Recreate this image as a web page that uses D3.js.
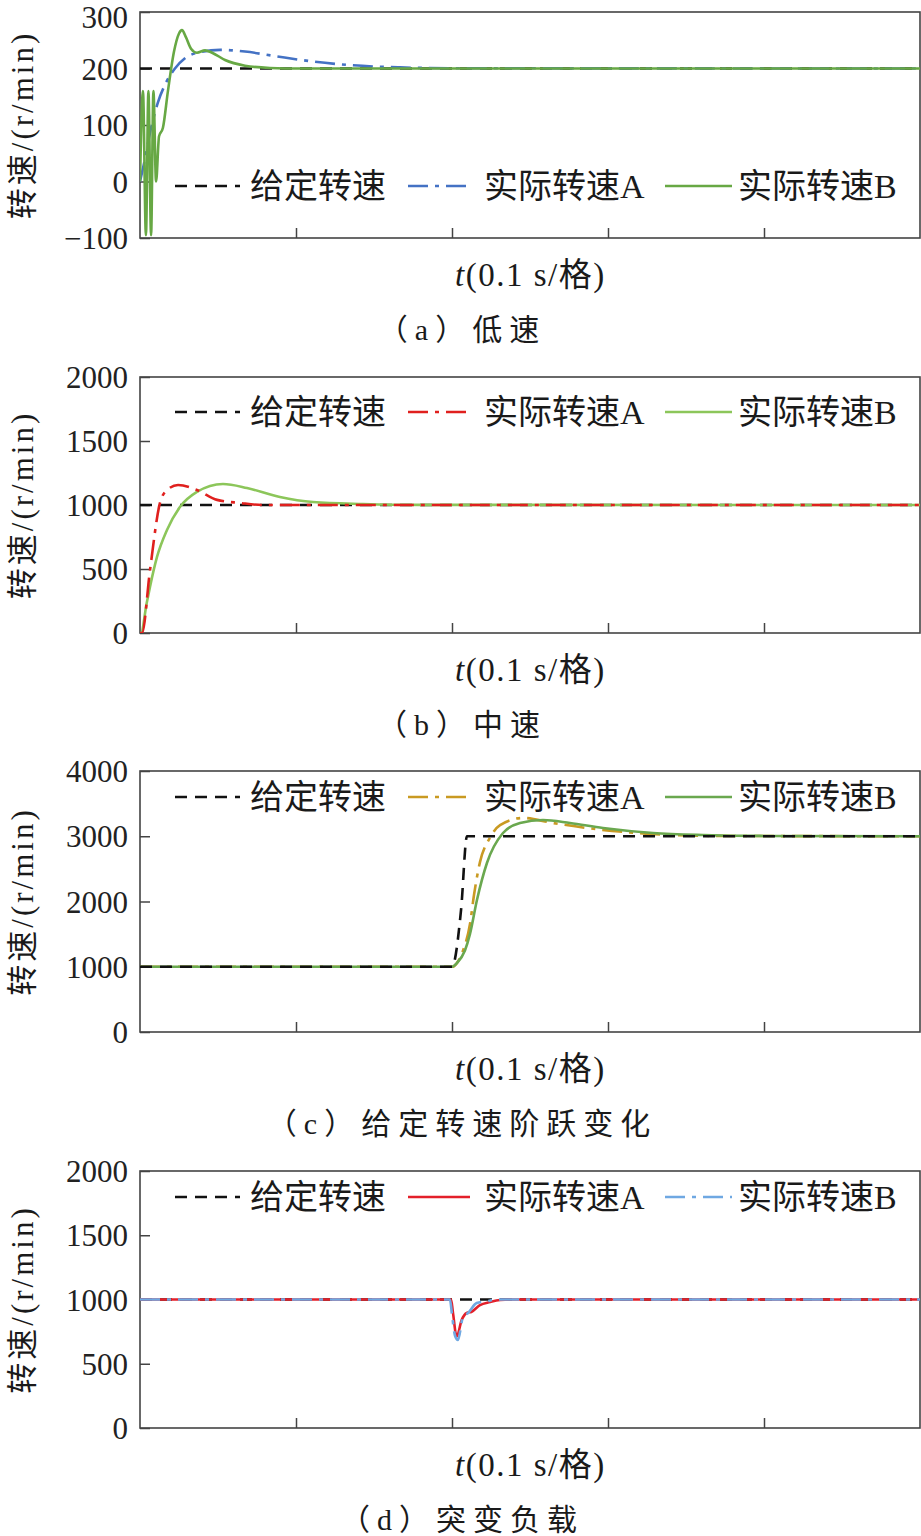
<!DOCTYPE html>
<html>
<head>
<meta charset="utf-8">
<script src="https://cdn.jsdelivr.net/npm/d3@7/dist/d3.min.js"></script>
<style>
  html, body { margin: 0; padding: 0; background: #ffffff; }
  svg { display: block; }
</style>
</head>
<body>
<div id="chart"></div>
<script>
// ---- data (time in s, speed in r/min) ----

// (a) low speed
const lowRefT = [0, 0.5];
const lowRefV = [200, 200];
const lowAT = [0, 0.0032, 0.0064, 0.0115, 0.0167, 0.0224, 0.0288, 0.0385, 0.0513, 0.0673, 0.0865, 0.109, 0.1346, 0.1667, 0.1987, 0.5];
const lowAV = [0, 40, 86, 140, 175, 200, 218, 229, 233, 230, 222, 213, 206, 202, 200.5, 200];
const lowBT = [0, 0.0019, 0.0038, 0.0054, 0.0071, 0.0086, 0.0103, 0.0122, 0.0147, 0.0179, 0.0218, 0.025, 0.0269, 0.0295, 0.0327, 0.0365, 0.0417, 0.0462, 0.0545, 0.0673, 0.0833, 0.1026, 0.5];
const lowBV = [0, 160, -95, 160, -95, 160, 0, 80, 95, 160, 230, 262, 268, 255, 235, 228, 232, 228, 215, 205, 201, 200, 200];

// (b) medium speed
const midRefT = [0, 0.5];
const midRefV = [1000, 1000];
const midAT = [0, 0.0013, 0.0064, 0.0128, 0.0173, 0.0244, 0.0365, 0.0494, 0.0641, 0.0788, 0.5];
const midAV = [0, 0, 490, 1016, 1117, 1156, 1117, 1040, 1016, 1000, 1000];
const midBT = [0, 0.0006, 0.0043, 0.0064, 0.0109, 0.0173, 0.0256, 0.0365, 0.0532, 0.0686, 0.0897, 0.1109, 0.1429, 0.1795, 0.5];
const midBV = [0, 0, 234, 360, 594, 805, 984, 1102, 1164, 1133, 1062, 1023, 1008, 1001, 1000];

// (c) step change of reference speed
const stepRefT = [0, 0.2, 0.2058, 0.2096, 0.5];
const stepRefV = [1000, 1000, 1870, 3000, 3000];
const stepAT = [0, 0.2006, 0.2038, 0.2071, 0.2115, 0.2141, 0.2179, 0.2244, 0.2308, 0.2455, 0.2647, 0.2865, 0.3186, 0.3397, 0.3718, 0.5];
const stepAV = [1000, 1000, 1080, 1250, 1650, 2100, 2600, 2980, 3172, 3280, 3203, 3126, 3050, 3019, 3005, 3000];
const stepBT = [0, 0.2, 0.2032, 0.2083, 0.2115, 0.216, 0.2224, 0.2327, 0.2436, 0.2583, 0.2756, 0.2968, 0.3288, 0.3609, 0.3974, 0.5];
const stepBV = [1000, 1000, 1057, 1250, 1500, 2023, 2590, 3050, 3203, 3249, 3203, 3126, 3050, 3019, 3005, 3000];

// (d) sudden load change
const loadRefT = [0, 0.5];
const loadRefV = [1000, 1000];
const loadAT = [0, 0.1994, 0.2006, 0.203, 0.2062, 0.2094, 0.2126, 0.2179, 0.2244, 0.2308, 0.2372, 0.5];
const loadAV = [1000, 1000, 900, 710, 840, 895, 905, 957, 980, 996, 1000, 1000];
const loadBT = [0, 0.1987, 0.2, 0.2019, 0.2038, 0.2071, 0.2103, 0.2158, 0.2218, 0.2288, 0.5];
const loadBV = [1000, 1000, 880, 720, 685, 866, 895, 972, 985, 1000, 1000];

const xTicks = [0.1, 0.2, 0.3, 0.4];
const legendNames = ['给定转速', '实际转速A', '实际转速B'];
const yTitle = '转速/(r/min)';
const captions = ['（a）低速', '（b）中速', '（c）给定转速阶跃变化', '（d）突变负载'];

const zip = (t, v) => t.map((d, i) => [d, v[i]]);

// ---- layout ----
const W = 921, H = 1536;
const left = 140, right = 920;
const FONT = '"Liberation Serif", "Times New Roman", "Noto Sans CJK SC", serif';
const DASH = '12,8';
const DASHDOT = '20,7,4,7';

const panels = [
  { top: 12, bottom: 238, domain: [-100, 300], ticks: [-100, 0, 100, 200, 300], legendY: 186,
    series: [
      { data: zip(lowRefT, lowRefV), color: '#111111', dash: DASH },
      { data: zip(lowAT, lowAV), color: '#4472C4', dash: DASHDOT },
      { data: zip(lowBT, lowBV), color: '#67A844', dash: null }
    ] },
  { top: 377, bottom: 633, domain: [0, 2000], ticks: [0, 500, 1000, 1500, 2000], legendY: 412,
    series: [
      { data: zip(midRefT, midRefV), color: '#111111', dash: DASH },
      { data: zip(midBT, midBV), color: '#8CC65A', dash: null, legend: 2 },
      { data: zip(midAT, midAV), color: '#E0201E', dash: DASHDOT, legend: 1 }
    ] },
  { top: 771, bottom: 1032, domain: [0, 4000], ticks: [0, 1000, 2000, 3000, 4000], legendY: 797,
    series: [
      { data: zip(stepAT, stepAV), color: '#C99A22', dash: DASHDOT, legend: 1 },
      { data: zip(stepBT, stepBV), color: '#6AA84F', dash: null, legend: 2 },
      { data: zip(stepRefT, stepRefV), color: '#111111', dash: DASH, legend: 0 }
    ] },
  { top: 1171, bottom: 1428, domain: [0, 2000], ticks: [0, 500, 1000, 1500, 2000], legendY: 1197,
    series: [
      { data: zip(loadRefT, loadRefV), color: '#111111', dash: DASH },
      { data: zip(loadAT, loadAV), color: '#E3202A', dash: null },
      { data: zip(loadBT, loadBV), color: '#6FA8E2', dash: DASHDOT }
    ] }
];

const legendLineX = [[175, 240], [408, 470], [665, 732]];
const legendTextX = [250, 484, 738];

const svg = d3.select('#chart').append('svg')
  .attr('width', W)
  .attr('height', H)
  .attr('viewBox', `0 0 ${W} ${H}`)
  .style('background', '#ffffff')
  .style('font-family', FONT);

const x = d3.scaleLinear().domain([0, 0.5]).range([left, right]);

panels.forEach((p, pi) => {
  const y = d3.scaleLinear().domain(p.domain).range([p.bottom, p.top]);
  const g = svg.append('g');

  // clip so spikes stay inside the box
  const clipId = `clip-${pi}`;
  svg.append('clipPath').attr('id', clipId)
    .append('rect')
    .attr('x', left).attr('y', p.top)
    .attr('width', right - left).attr('height', p.bottom - p.top);

  // y axis (ticks inward)
  const yAxis = g.append('g')
    .attr('transform', `translate(${left},0)`)
    .call(d3.axisLeft(y).tickValues(p.ticks).tickSize(-10).tickPadding(12)
      .tickFormat(d => d < 0 ? '\u2212' + Math.abs(d) : String(d)));
  yAxis.select('.domain').remove();
  yAxis.selectAll('line').attr('stroke', '#444').attr('stroke-width', 1.5);
  yAxis.selectAll('text')
    .attr('font-family', FONT).attr('font-size', 31).attr('fill', '#222')
    .attr('dy', d => d === p.domain[1] && pi === 0 ? '0.5em' : '0.34em');

  // x axis (ticks inward, no labels)
  const xAxis = g.append('g')
    .attr('transform', `translate(0,${p.bottom})`)
    .call(d3.axisBottom(x).tickValues(xTicks).tickSize(-10).tickFormat(''));
  xAxis.select('.domain').remove();
  xAxis.selectAll('line').attr('stroke', '#444').attr('stroke-width', 1.5);

  // frame
  g.append('rect')
    .attr('x', left).attr('y', p.top)
    .attr('width', right - left).attr('height', p.bottom - p.top)
    .attr('fill', 'none').attr('stroke', '#444').attr('stroke-width', 1.6);

  // curves
  const line = d3.line()
    .x(d => x(d[0]))
    .y(d => y(d[1]))
    .curve(d3.curveMonotoneX);

  const plot = g.append('g').attr('clip-path', `url(#${clipId})`);
  p.series.forEach(s => {
    plot.append('path')
      .datum(s.data)
      .attr('d', line)
      .attr('fill', 'none')
      .attr('stroke', s.color)
      .attr('stroke-width', 2.6)
      .attr('stroke-linejoin', 'round')
      .attr('stroke-dasharray', s.dash);
  });

  // legend: ref, A, B in that order
  const ordered = [0, 1, 2].map(k => p.series.find((s, i) => (s.legend != null ? s.legend : i) === k));
  ordered.forEach((s, i) => {
    g.append('line')
      .attr('x1', legendLineX[i][0]).attr('x2', legendLineX[i][1])
      .attr('y1', p.legendY).attr('y2', p.legendY)
      .attr('stroke', s.color)
      .attr('stroke-width', 2.6)
      .attr('stroke-dasharray', s.dash);
    g.append('text')
      .attr('x', legendTextX[i])
      .attr('y', p.legendY + 12)
      .attr('font-size', 34)
      .attr('fill', '#1a1a1a')
      .text(legendNames[i]);
  });

  // y title
  g.append('text')
    .attr('transform', `translate(22,${(p.top + p.bottom) / 2}) rotate(-90)`)
    .attr('text-anchor', 'middle')
    .attr('dy', '0.35em')
    .attr('font-size', 31)
    .attr('letter-spacing', 3)
    .attr('fill', '#1a1a1a')
    .text(yTitle);

  // x title
  const xt = g.append('text')
    .attr('x', 455)
    .attr('y', p.bottom + 48)
    .attr('font-size', 33)
    .attr('letter-spacing', 1.5)
    .attr('fill', '#1a1a1a');
  xt.append('tspan').attr('font-style', 'italic').text('t');
  xt.append('tspan').text('(0.1 s/格)');

  // caption
  g.append('text')
    .attr('x', 462)
    .attr('y', p.bottom + 102)
    .attr('text-anchor', 'middle')
    .attr('font-size', 30)
    .attr('letter-spacing', 7)
    .attr('fill', '#1a1a1a')
    .text(captions[pi]);
});
</script>
</body>
</html>
